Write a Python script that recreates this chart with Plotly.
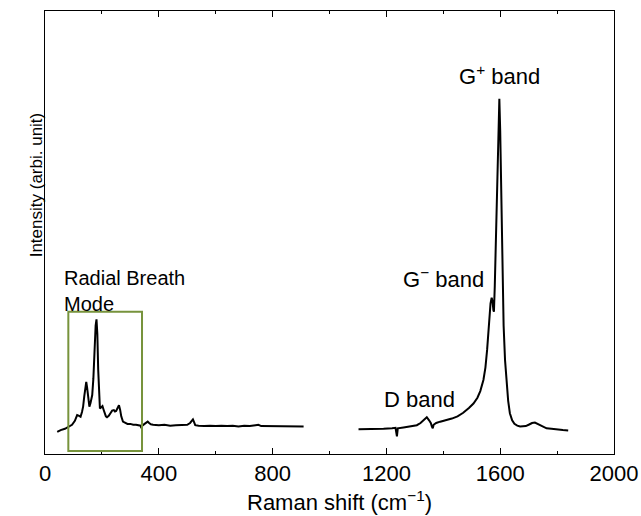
import plotly.graph_objects as go

# Low-frequency segment (RBM region)
x_low = [43, 55, 70, 84, 95, 105, 113, 120, 125, 130, 134, 138, 142, 145, 148, 152, 156, 160, 163, 166,
         170, 174, 178, 181, 184, 187, 190, 193, 197, 202, 206, 210, 214, 218, 224, 230, 236, 242, 246, 250,
         255, 260, 264, 268, 274, 282, 290, 300, 310, 320, 330, 336, 339, 342, 350, 356, 361, 366, 372, 380,
         400, 420, 440, 460, 480, 500, 510, 516, 520, 524, 528, 540, 560, 580, 600, 620, 640, 660, 680, 700,
         720, 740, 750, 760, 780, 800, 820, 840, 860, 880, 900, 909]
y_low = [50, 54, 57, 62, 66, 75, 88, 86, 84, 95, 107, 130, 152, 163, 150, 118, 107, 115, 125, 133,
         170, 240, 290, 304, 270, 190, 130, 103, 105, 108, 100, 90, 85, 83, 86, 92, 98, 99, 96, 97,
         104, 110, 100, 85, 73, 70, 68, 68, 66, 66, 65, 64, 58, 64, 68, 71, 73, 70, 67, 66,
         65, 66, 64, 65, 65, 66, 70, 76, 78, 72, 65, 64, 63, 64, 63, 64, 63, 64, 62, 64,
         63, 65, 66, 63, 63, 62, 63, 62, 63, 62, 62, 62]

# High-frequency segment (D and G bands)
x_high = [1102, 1130, 1160, 1190, 1220, 1232, 1237, 1240, 1260, 1290, 1307, 1320, 1332, 1342, 1350, 1356,
          1360, 1363, 1366, 1375, 1389, 1410, 1430, 1450, 1470, 1490, 1506, 1520, 1530, 1541, 1548, 1554,
          1558, 1562, 1566, 1570, 1573, 1576, 1578, 1581, 1584, 1588, 1591, 1594, 1597, 1600, 1603, 1606,
          1609, 1612, 1617, 1622, 1628, 1634, 1642, 1650, 1660, 1670, 1680, 1690, 1700, 1712, 1722, 1732,
          1745, 1763, 1780, 1800, 1820, 1839]
y_high = [56, 56, 57, 57, 58, 59, 40, 58, 60, 63, 65, 70, 78, 83, 76, 70,
          62, 58, 66, 70, 73, 76, 80, 85, 93, 104, 114, 127, 142, 167, 195, 235,
          272, 310, 340, 353, 345, 325, 321, 380, 470, 588, 700, 780, 802, 730, 610, 490,
          380, 290, 212, 160, 120, 92, 76, 68, 64, 62, 62, 63, 66, 70, 71, 68,
          63, 58, 57, 55, 54, 53]

x_ticks = [0, 400, 800, 1200, 1600, 2000]
box_x = [82, 341]
box_y = [7, 321]

band_labels = ["G<sup>+</sup> band", "G<sup>\u2212</sup> band", "D band", "Radial Breath<br>Mode"]
band_x = [1599, 1399, 1317, 60]
band_y = [855, 398, 124, 367]
band_size = [22, 22, 22, 20]

FONT = "Liberation Sans, Arial, sans-serif"

fig = go.Figure()
fig.add_trace(go.Scatter(x=x_low, y=y_low, mode="lines", line=dict(color="black", width=2), showlegend=False))
fig.add_trace(go.Scatter(x=x_high, y=y_high, mode="lines", line=dict(color="black", width=2), showlegend=False))

fig.add_shape(type="rect", xref="x", yref="y", x0=box_x[0], x1=box_x[1], y0=box_y[0], y1=box_y[1],
              line=dict(color="#77933C", width=2), fillcolor="rgba(0,0,0,0)")

for i, t in enumerate(band_labels):
    fig.add_annotation(x=band_x[i], y=band_y[i], xref="x", yref="y", text=t, showarrow=False,
                       xanchor="left" if i == 3 else "center", yanchor="middle", align="left",
                       font=dict(size=band_size[i], color="black", family=FONT))

fig.add_annotation(x=(339 - 44.5) / 569.5, y=(454 - 501) / 443.5, xref="paper", yref="paper",
                   text="Raman shift (cm<sup>\u22121</sup>)",
                   showarrow=False, xanchor="center", yanchor="middle", font=dict(size=22, color="black", family=FONT))
fig.add_annotation(x=(35.5 - 44.5) / 569.5, y=(454 - 185) / 443.5, xref="paper", yref="paper",
                   text="Intensity (arbi. unit)", textangle=-90,
                   showarrow=False, xanchor="center", yanchor="middle", font=dict(size=17, color="black", family=FONT))

fig.update_layout(
    width=641, height=516,
    margin=dict(l=44.5, r=27, t=10.5, b=62, autoexpand=False),
    paper_bgcolor="white", plot_bgcolor="white",
    font=dict(family=FONT, size=20, color="black"),
    showlegend=False,
)
fig.update_xaxes(range=[0, 2000], tickvals=x_ticks, ticks="inside", ticklen=6, tickwidth=1, tickcolor="black",
                 minor=dict(dtick=200, ticks="inside", ticklen=3, tickcolor="black", tickwidth=1),
                 showline=True, linecolor="black", linewidth=1, mirror="ticks", showgrid=False, zeroline=False,
                 automargin=False, tickfont=dict(size=22, family=FONT, color="black"))
fig.update_yaxes(range=[0, 1000], showticklabels=False, ticks="", showline=True, linecolor="black", linewidth=1,
                 mirror=True, showgrid=False, zeroline=False, automargin=False)

fig.write_html("out.html", config={"displayModeBar": False},
               post_script="document.body.style.margin='0';document.body.style.overflow='hidden';")
